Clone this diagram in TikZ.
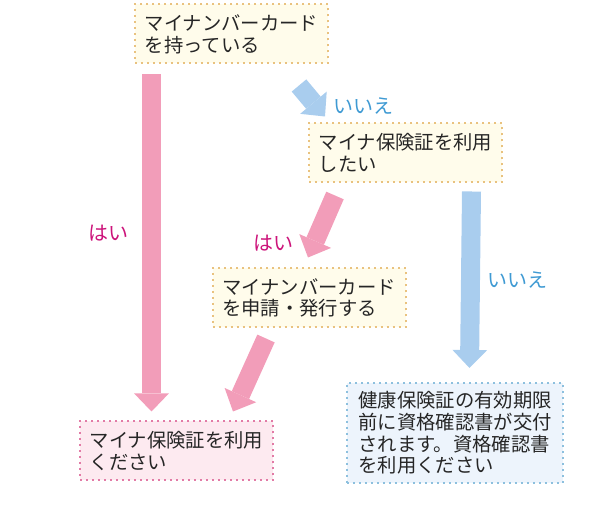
\documentclass[tikz,border=0pt]{standalone}
\usepackage{fontspec}
\setmainfont{Noto Sans CJK JP}
\definecolor{creamfill}{HTML}{FFFCEB}
\definecolor{creamline}{HTML}{E9C27F}
\definecolor{pinkfill}{HTML}{FDEAF0}
\definecolor{pinkline}{HTML}{E27BA6}
\definecolor{bluefill}{HTML}{EDF4FC}
\definecolor{blueline}{HTML}{8DC0DE}
\definecolor{pinkarr}{HTML}{F29DB9}
\definecolor{bluearr}{HTML}{A9CDEE}
\definecolor{yestext}{HTML}{CC137A}
\definecolor{notext}{HTML}{3F9AD3}
\usetikzlibrary{arrows.meta, calc}

\begin{document}
\begin{tikzpicture}[
  x=0.75pt, y=-0.75pt,
  qbox/.style={draw=creamline, fill=creamfill, line width=1.5pt, dash pattern=on 1.5pt off 3pt,
    align=left, inner sep=0pt, minimum width=193*0.75pt, minimum height=59*0.75pt,
    font=\fontsize{14.5pt}{16.3pt}\selectfont, text=black!85},
  pinkbox/.style={qbox, draw=pinkline, fill=pinkfill},
  bluebox/.style={qbox, draw=blueline, fill=bluefill, minimum width=216*0.75pt, minimum height=100*0.75pt},
  fatarrow/.style={line width=14.25pt, -{Triangle[width=26pt, length=13.5pt, line width=0pt]}},
  pinkarrow/.style={fatarrow, draw=pinkarr, fill=pinkarr},
  bluearrow/.style={fatarrow, draw=bluearr, fill=bluearr},
  yeslabel/.style={text=yestext, font=\fontsize{15pt}{18pt}\selectfont, inner sep=0pt},
  nolabel/.style={text=notext, font=\fontsize{15pt}{18pt}\selectfont, inner sep=0pt}
]
  \useasboundingbox (0,0) rectangle (597,516);

  % questions and results
  \node[qbox] (card) at (231.5, 34) {マイナンバーカード\\を持っている};
  \node[qbox] (want) at (405.5, 153) {マイナ保険証を利用\\したい};
  \node[qbox] (apply) at (309, 298) {マイナンバーカード\\を申請・発行する};
  \node[pinkbox] (use) at (176.5, 451) {マイナ保険証を利用\\ください};
  \node[bluebox] (cert) at (455, 433) {健康保険証の有効期限\\前に資格確認書が交付\\されます。資格確認書\\を利用ください};

  % arrows
  \draw[pinkarrow] ($(card.south west)+(17.5,10)$) -- ($(use.north west)+(72.5,-9)$);
  \draw[bluearrow] ($(card.south east)+(-30,21)$) -- ($(want.north west)+(17,-6)$);
  \draw[pinkarrow] ($(want.south west)+(27,12)$) -- ($(apply.north)+(-1,-10)$);
  \draw[bluearrow] ($(want.south east)+(-31.5,8)$) -- ($(cert.north west)+(123.5,-14)$);
  \draw[pinkarrow] ($(apply.south)+(-43,10)$) -- ($(use.north east)+(-41,-9)$);

  % answers
  \node[nolabel] (no1) at (363, 106) {いいえ};
  \node[yeslabel] (yes1) at (108, 233) {はい};
  \node[yeslabel] (yes2) at (273, 243) {はい};
  \node[nolabel] (no2) at (517, 280) {いいえ};
\end{tikzpicture}
\end{document}
